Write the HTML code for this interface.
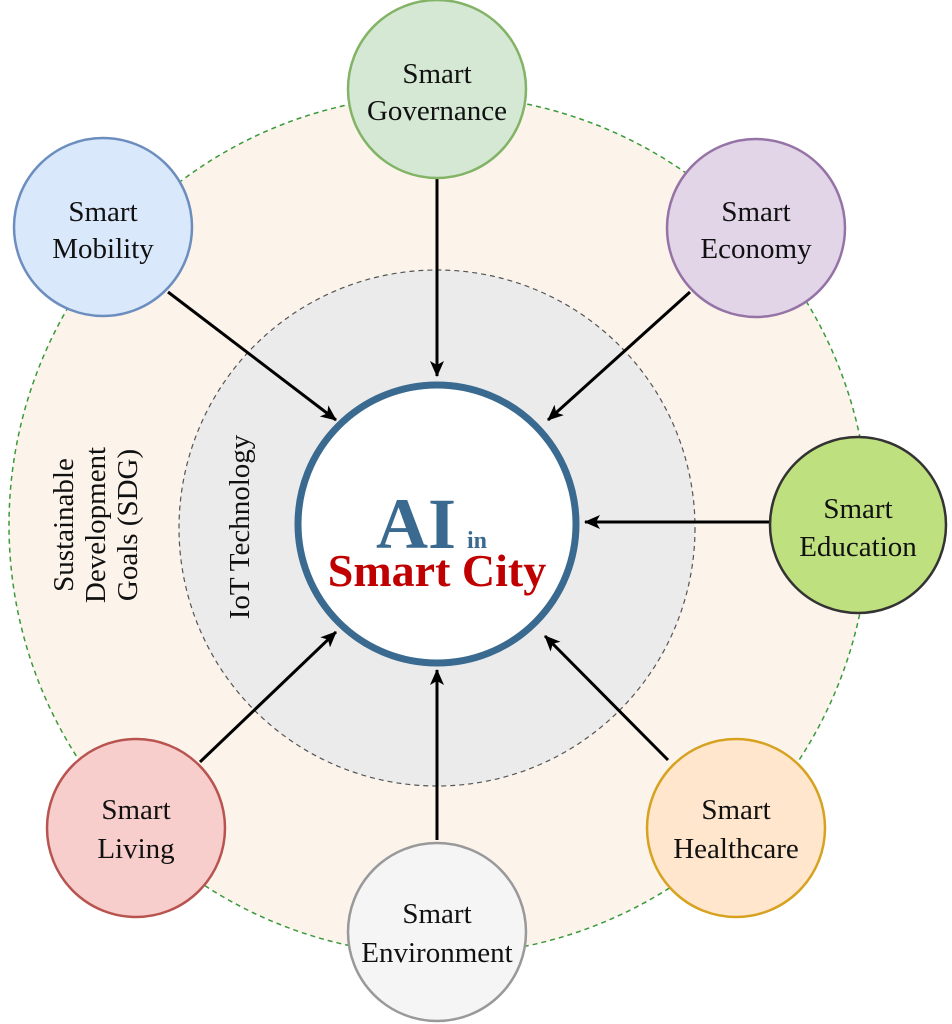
<!DOCTYPE html>
<html><head><meta charset="utf-8"><style>
html,body{margin:0;padding:0;background:#fff;}
svg{display:block;}
text{font-family:"Liberation Serif",serif;}
</style></head><body>
<svg width="952" height="1024" viewBox="0 0 952 1024" xmlns="http://www.w3.org/2000/svg">
<defs>
<marker id="ah" markerWidth="16" markerHeight="14" refX="15" refY="7" orient="auto" markerUnits="userSpaceOnUse" viewBox="0 0 16 14">
<path d="M0,0 L16,7 L0,14 L4,7 z" fill="#000"/>
</marker>
</defs>
<circle cx="439" cy="525" r="430" fill="#fcf3eb" stroke="#3a9a3a" stroke-width="1.5" stroke-dasharray="5,4"/>
<circle cx="437" cy="528" r="258" fill="#ebebeb" stroke="#555" stroke-width="1.2" stroke-dasharray="5,4"/>

<g stroke="#000" stroke-width="3" marker-end="url(#ah)">
<line x1="437" y1="178" x2="437" y2="376"/>
<line x1="168" y1="292" x2="336" y2="420"/>
<line x1="690" y1="292" x2="548" y2="420"/>
<line x1="770" y1="522" x2="585" y2="522"/>
<line x1="668" y1="760" x2="545" y2="636"/>
<line x1="437" y1="840" x2="437" y2="670"/>
<line x1="200" y1="762" x2="336" y2="632"/>
</g>

<circle cx="437" cy="524" r="139" fill="#fff" stroke="#3a6a8f" stroke-width="7"/>
<text x="416" y="548" text-anchor="middle" font-size="72" font-weight="bold" fill="#3a6a8f">AI</text>
<text x="477" y="548" text-anchor="middle" font-size="24" font-weight="bold" fill="#3a6a8f">in</text>
<text x="437" y="586" text-anchor="middle" font-size="46" font-weight="bold" fill="#c00000">Smart City</text>

<g font-size="29" fill="#111" text-anchor="middle">
<text transform="translate(73,525) rotate(-90)">Sustainable</text>
<text transform="translate(105,525) rotate(-90)">Development</text>
<text transform="translate(137,525) rotate(-90)">Goals (SDG)</text>
<text transform="translate(249,527) rotate(-90)">IoT Technology</text>
</g>

<g stroke-width="2.5" font-size="29" text-anchor="middle">
<circle cx="437" cy="89" r="89" fill="#d5e8d4" stroke="#82b366"/>
<text x="437" y="83" fill="#111" stroke="none">Smart</text>
<text x="437" y="120" fill="#111" stroke="none">Governance</text>

<circle cx="103" cy="227" r="89" fill="#dae8fc" stroke="#6c8ebf"/>
<text x="103" y="221" fill="#111" stroke="none">Smart</text>
<text x="103" y="258" fill="#111" stroke="none">Mobility</text>

<circle cx="756" cy="228" r="89" fill="#e1d5e7" stroke="#9673a6"/>
<text x="756" y="221" fill="#111" stroke="none">Smart</text>
<text x="756" y="258" fill="#111" stroke="none">Economy</text>

<circle cx="858" cy="525" r="88" fill="#bfe07e" stroke="#333"/>
<text x="858" y="518" fill="#111" stroke="none">Smart</text>
<text x="858" y="556" fill="#111" stroke="none">Education</text>

<circle cx="736" cy="828" r="89" fill="#ffe6cc" stroke="#d7a220"/>
<text x="736" y="819" fill="#111" stroke="none">Smart</text>
<text x="736" y="858" fill="#111" stroke="none">Healthcare</text>

<circle cx="437" cy="932" r="89" fill="#f5f5f5" stroke="#999"/>
<text x="437" y="923" fill="#111" stroke="none">Smart</text>
<text x="437" y="962" fill="#111" stroke="none">Environment</text>

<circle cx="136" cy="828" r="89" fill="#f8cecc" stroke="#b85450"/>
<text x="136" y="819" fill="#111" stroke="none">Smart</text>
<text x="136" y="858" fill="#111" stroke="none">Living</text>
</g>
</svg>
</body></html>
